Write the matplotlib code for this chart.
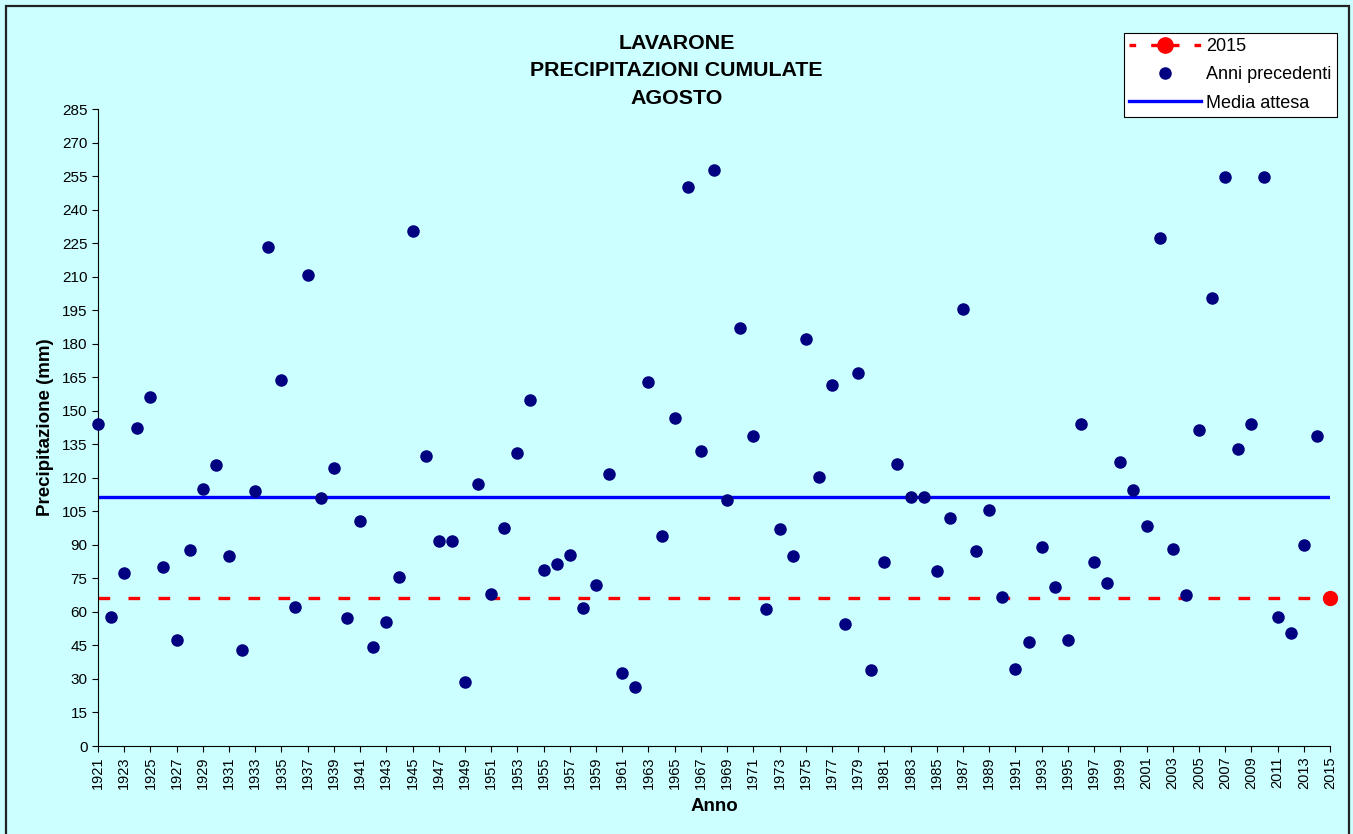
import matplotlib.pyplot as plt
import numpy as np
from matplotlib.patches import Rectangle

# Precipitazioni cumulate di agosto, Lavarone (mm)
anni = np.arange(1921, 2015)
precipitazioni = [
    144, 57.6, 77.3, 142.3, 156, 80.3, 47.4, 87.9, 115.1, 125.8,
    84.9, 43.1, 114.2, 223.1, 163.9, 62.1, 210.6, 110.8, 124.3, 57.4,
    100.7, 44.1, 55.3, 75.4, 230.4, 129.6, 91.7, 91.7, 28.7, 117.4,
    67.8, 97.7, 130.9, 154.7, 78.8, 81.4, 85.3, 61.7, 72.2, 121.9,
    32.8, 26.3, 162.8, 93.8, 146.8, 250, 132.2, 257.8, 110.1, 186.8,
    138.9, 61.1, 96.9, 84.8, 182.1, 120.2, 161.6, 54.4, 167.1, 34.1,
    82.5, 126, 111.6, 111.6, 78.4, 102.2, 195.4, 87.4, 105.4, 66.6,
    34.5, 46.7, 89.1, 71.3, 47.4, 144, 82.3, 73.1, 127.1, 114.4,
    98.3, 227.1, 88.1, 67.7, 141.6, 200.6, 254.4, 132.8, 144.2, 254.6,
    57.8, 50.6, 89.8, 138.9,
]
anno_corrente = 2015
valore_corrente = 66.3
media_attesa = 111.6

bg = "#CCFFFF"
plt.rcParams["font.family"] = ["Liberation Sans", "DejaVu Sans"]

fig = plt.figure(figsize=(13.53, 8.34), dpi=100, facecolor=bg)
ax = fig.add_axes([0.0724, 0.1055, 0.9106, 0.7638], facecolor=bg)

x_lim = (anni[0], anno_corrente)
ax.plot(x_lim, [valore_corrente] * 2, color="#FF0000", lw=2.4,
        ls=(0, (3.5, 5.5)), zorder=2)
ax.plot(x_lim, [media_attesa] * 2, color="#0000FF", lw=2.4, zorder=2)
ax.plot(anni, precipitazioni, "o", color="#000080", ms=8, mec="#000080",
        ls="none", clip_on=False, zorder=3)
ax.plot([anno_corrente], [valore_corrente], "o", color="#FF0000", ms=10,
        clip_on=False, zorder=4)

# legend handles
h1, = ax.plot([], [], color="#FF0000", lw=2.4, ls=(0, (2, 4.5)),
              marker="o", ms=11)
h2, = ax.plot([], [], "o", color="#000080", ms=8, ls="none")
h3, = ax.plot([], [], color="#0000FF", lw=2.4)
leg = ax.legend([h1, h2, h3], ["2015", "Anni precedenti", "Media attesa"],
                loc="upper right", bbox_to_anchor=(1.0055, 1.119),
                borderaxespad=0, fontsize=13, frameon=True, fancybox=False,
                edgecolor="black", facecolor="white", framealpha=1,
                handlelength=4.0, borderpad=0.28, labelspacing=0.62,
                handletextpad=0.3)
leg.get_frame().set_linewidth(0.8)

ax.set_xlim(*x_lim)
ax.set_ylim(0, 285)
ax.set_yticks(np.arange(0, 286, 15))
ax.set_xticks(np.arange(1921, 2016, 2))
ax.tick_params(axis="x", labelrotation=90, labelsize=10.5, length=4,
               direction="out")
ax.tick_params(axis="y", labelsize=11, length=4, direction="out")
for side in ("top", "right"):
    ax.spines[side].set_visible(False)

ax.set_xlabel("Anno", fontsize=13.5, fontweight="bold", labelpad=6)
ax.set_ylabel("Precipitazione (mm)", fontsize=13.5, fontweight="bold",
              labelpad=6)
fig.text(0.5, 0.959, "LAVARONE\nPRECIPITAZIONI CUMULATE\nAGOSTO",
         ha="center", va="top", fontsize=15.4, fontweight="bold",
         linespacing=1.55)

fig.patches.append(Rectangle((6 / 1353, -0.01), 1343 / 1353, 1.01 - 6 / 834,
                             transform=fig.transFigure, fill=False,
                             edgecolor="#222222", lw=1.6))

fig.savefig("out.png", dpi=100, facecolor=bg)
